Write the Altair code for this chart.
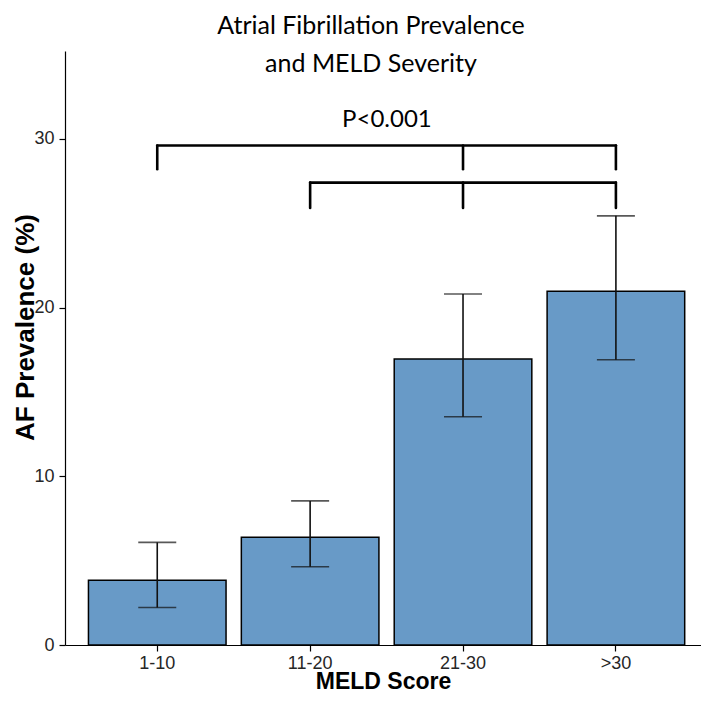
import altair as alt
import pandas as pd

categories = ["1-10", "11-20", "21-30", ">30"]
prevalence = [3.83, 6.39, 16.95, 20.96]
ci_low = [2.22, 4.64, 13.53, 16.90]
ci_high = [6.08, 8.54, 20.80, 25.43]

bracket_from = ["1-10", "11-20"]
bracket_to = [">30", ">30"]
bracket_top = [29.6, 27.4]
bracket_leg_bottom = [28.2, 25.9]
bracket_legs = [["1-10", "21-30", ">30"], ["11-20", "21-30", ">30"]]
p_label = "P<0.001"
p_label_y = 31.1

title_lines = ["Atrial Fibrillation Prevalence", "and  MELD Severity"]

df = pd.DataFrame({"meld": categories, "af": prevalence, "lo": ci_low, "hi": ci_high})
h_df = pd.DataFrame({"x1": bracket_from, "x2": bracket_to, "y": bracket_top})
leg_rows = []
for legs, top, bot in zip(bracket_legs, bracket_top, bracket_leg_bottom):
    for c in legs:
        leg_rows.append({"x": c, "y1": top, "y2": bot})
leg_df = pd.DataFrame(leg_rows)
txt_df = pd.DataFrame({"x": ["11-20"], "y": [p_label_y], "t": [p_label]})

x_scale = alt.Scale(domain=categories, paddingInner=0.1, paddingOuter=0.13, align=0.59)
y_scale = alt.Scale(domain=[0, 35.2], nice=False, zero=True)

bars = alt.Chart(df).mark_bar(color="#689AC7", stroke="black", strokeWidth=1.5).encode(
    x=alt.X("meld:N", scale=x_scale, title="MELD Score",
            axis=alt.Axis(labelAngle=0, labelPadding=3, titleFontSize=23,
                          titleBaseline="alphabetic", titleY=43)),
    y=alt.Y("af:Q", scale=y_scale, title="AF Prevalence (%)",
            axis=alt.Axis(values=[0, 10, 20, 30], labelPadding=5, titleFontSize=26,
                          titleBaseline="alphabetic", titleX=-32, titleY=276)),
)

err = alt.Chart(df).mark_rule(color="#111111", strokeWidth=1.6).encode(
    x=alt.X("meld:N"), y=alt.Y("lo:Q"), y2="hi:Q"
)
cap_lo = alt.Chart(df).mark_tick(color="#111111", thickness=1.6, size=38).encode(
    x=alt.X("meld:N"), y=alt.Y("lo:Q")
)
cap_hi = alt.Chart(df).mark_tick(color="#111111", thickness=1.6, size=38).encode(
    x=alt.X("meld:N"), y=alt.Y("hi:Q")
)

br_h = alt.Chart(h_df).mark_rule(color="black", strokeWidth=2.6, strokeCap="round").encode(
    x=alt.X("x1:N", bandPosition=0.5), x2=alt.X2("x2:N", bandPosition=0.5), y=alt.Y("y:Q")
)
br_v = alt.Chart(leg_df).mark_rule(color="black", strokeWidth=2.6, strokeCap="round").encode(
    x=alt.X("x:N", bandPosition=0.5), y=alt.Y("y1:Q"), y2="y2:Q"
)
ptxt = alt.Chart(txt_df).mark_text(font="Lato", fontSize=24, color="black", baseline="middle", dx=8).encode(
    x=alt.X("x:N", bandPosition=1.0), y=alt.Y("y:Q"), text="t:N"
)

chart = alt.layer(bars, err, cap_lo, cap_hi, br_h, br_v, ptxt).properties(
    width=636, height=594,
    autosize=alt.AutoSizeParams(type="none"),
    padding={"left": 57, "top": 43, "right": 0, "bottom": 49},
    title=alt.TitleParams(title_lines, font="Lato", fontSize=25, fontWeight="normal", color="black",
                          anchor="middle", offset=-26, lineHeight=38, dx=-12),
).configure_view(stroke=None).configure_axis(
    grid=False, domainColor="black", domainWidth=1.2, tickColor="black", tickSize=6, tickWidth=1.2,
    labelColor="#262626", labelFont="Liberation Sans", labelFontSize=18,
    titleFont="Liberation Sans", titleFontWeight="bold", titleColor="black",
)

chart.save("out.html", embed_options={"renderer": "svg", "actions": False})
